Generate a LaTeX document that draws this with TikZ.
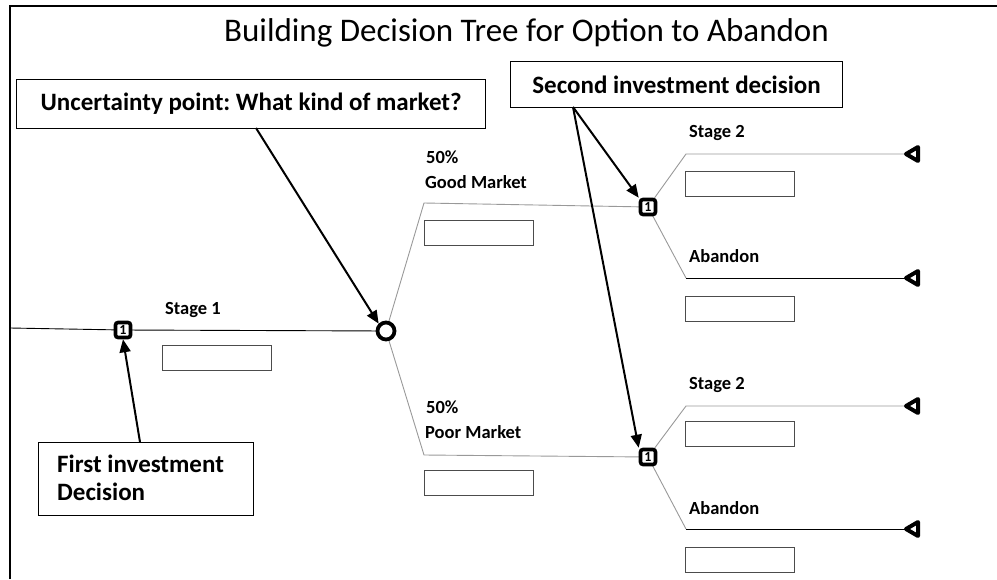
\documentclass[tikz,border=0pt]{standalone}
\usepackage{fontspec}
\setmainfont{Carlito}
\usetikzlibrary{arrows.meta}
\frenchspacing
\begin{document}
\begin{tikzpicture}[x=1pt,y=-1pt,
  callout/.style={draw=black,line width=1.2pt,fill=white,inner sep=0pt,font=\bfseries\fontsize{25}{28}\selectfont,anchor=north west},
  calltext/.style={font=\bfseries\fontsize{25}{28}\selectfont,anchor=base west,inner sep=0pt},
  valbox/.style={draw=black!70,line width=0.6pt,minimum width=109pt,minimum height=25pt,inner sep=0pt,anchor=north west},
  lbl/.style={font=\bfseries\fontsize{18.5}{22}\selectfont,anchor=base west,inner sep=0pt},
  dec/.style={draw=black,line width=3.6pt,rounded corners=2.5pt,fill=white,minimum size=15pt,inner sep=0pt,font=\bfseries\fontsize{14}{14}\selectfont},
  chance/.style={circle,draw=black,line width=3.8pt,fill=white,minimum size=17pt,inner sep=0pt},
  term/.style={draw=black,line width=4pt,fill=white,line join=round},
  gline/.style={draw=black!40,line width=0.9pt},
  bline/.style={draw=black,line width=0.9pt},
  ptr/.style={draw=black,line width=2pt,-{Triangle[length=13pt,width=11pt]}}
]
\useasboundingbox (0,0) rectangle (997,579);
% frame
\draw[line width=1.4pt] (10,579) -- (10,6) -- (997,6);
% title
\node[font=\fontsize{33}{38}\selectfont,anchor=base west,inner sep=0pt] (title) at (224,41) {Building Decision Tree for Option to Abandon};

% tree coordinates
\coordinate (start) at (10,328);
\coordinate (gm) at (424,203);
\coordinate (pm) at (424,455);
\coordinate (s2a) at (686,154);
\coordinate (aba) at (686,278);
\coordinate (s2b) at (686,406);
\coordinate (abb) at (686,529);
\coordinate (e1) at (905,154);
\coordinate (e2) at (905,278);
\coordinate (e3) at (905,406);
\coordinate (e4) at (905,529);
\coordinate (d1p) at (123,330);
\coordinate (cp) at (386,331);
\coordinate (d2p) at (648,207);
\coordinate (d3p) at (648,457);

% lines
\draw[bline] (start) -- (d1p) -- (cp);
\draw[gline] (cp) -- (gm) -- (d2p);
\draw[gline] (cp) -- (pm) -- (d3p);
\draw[gline] (d2p) -- (s2a) -- (e1);
\draw[gline] (d2p) -- (aba);
\draw[bline] (aba) -- (e2);
\draw[gline] (d3p) -- (s2b) -- (e3);
\draw[gline] (d3p) -- (abb);
\draw[bline] (abb) -- (e4);

% terminal triangles
\foreach \yy in {154,278,406,529}{
  \draw[term] (906,\yy) -- (918,\yy-7) -- (918,\yy+7) -- cycle;
}
% nodes
\node[dec] (d1) at (d1p) {1};
\node[chance] (c) at (cp) {};
\node[dec] (d2) at (d2p) {1};
\node[dec] (d3) at (d3p) {1};

% labels
\node[lbl] (l1) at (165,314) {Stage 1};
\node[valbox] (b1) at (162,345) {};
\node[lbl] (l2) at (426,163) {50\%};
\node[lbl] (l3) at (425,188) {Good Market};
\node[valbox] (b2) at (424,220) {};
\node[lbl] (l4) at (426,413) {50\%};
\node[lbl] (l5) at (425,438) {Poor Market};
\node[valbox] (b3) at (424,470) {};
\node[lbl] (l6) at (689,137) {Stage 2};
\node[valbox] (b4) at (685,171) {};
\node[lbl] (l7) at (689,262) {Abandon};
\node[valbox] (b5) at (685,296) {};
\node[lbl] (l8) at (689,389) {Stage 2};
\node[valbox] (b6) at (685,421) {};
\node[lbl] (l9) at (689,514) {Abandon};
\node[valbox] (b7) at (685,547) {};

% callouts
\node[callout,minimum width=469pt,minimum height=49pt,align=center] (cu) at (16,79) {Uncertainty point: What kind of market?};
\node[callout,minimum width=332pt,minimum height=46pt,align=center] (cs) at (510,61) {Second investment decision};
\node[callout,minimum width=215pt,minimum height=73pt] (cf) at (38,442) {};
\node[calltext] (cft) at (57,472) {First investment};
\node[calltext] (cft2) at (57,500) {Decision};

% pointer arrows
\coordinate (cuf) at (256,128);
\coordinate (csf) at (573,107);
\coordinate (cff) at (140,442);
\draw[ptr] (cuf) -- (c.north west);
\draw[ptr] (csf) -- (d2.north west);
\draw[ptr] (csf) -- (d3.north west);
\draw[ptr] (cff) -- (d1.south);
\end{tikzpicture}
\end{document}
